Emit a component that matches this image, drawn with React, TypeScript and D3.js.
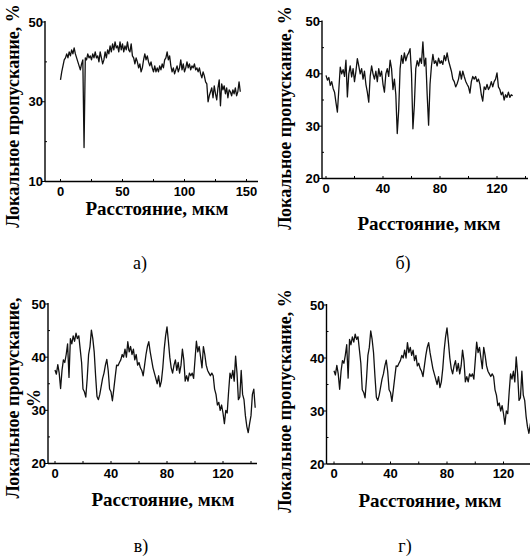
import React, { useEffect, useRef } from 'react';
import * as d3 from 'd3';

// Local transmission (%) vs distance (um), one value per micrometre
const transA = [
  35.5, 37.5, 39.0, 40.5, 41.0, 42.0, 41.0, 42.5, 41.5, 43.0, 42.0, 43.5, 42.0, 41.0, 40.0, 39.0, 38.0, 39.5, 40.5, 18.5,
  41.0, 40.5, 42.0, 41.0, 41.5, 40.5, 42.0, 41.0, 42.5, 41.0, 41.5, 40.0, 42.5, 41.0, 39.5, 40.5, 42.5, 41.0, 43.0, 42.0,
  44.0, 42.5, 44.5, 43.0, 45.0, 43.5, 44.0, 42.5, 45.0, 43.0, 44.5, 42.5, 44.0, 43.0, 45.0, 43.0, 42.5, 44.5, 41.5, 41.0,
  39.5, 41.0, 40.0, 38.5, 39.5, 37.5, 38.5, 40.5, 42.0, 40.5, 41.5, 40.0, 39.0, 40.0, 38.5, 37.5, 39.0, 37.5, 38.5, 37.5,
  39.0, 38.0, 39.5, 38.5, 40.5, 41.0, 42.5, 40.5, 41.5, 39.0, 37.5, 38.5, 37.0, 38.0, 39.0, 37.5, 38.5, 40.5, 38.0, 39.5,
  37.5, 38.5, 40.0, 38.5, 39.5, 38.0, 39.0, 38.5, 39.5, 38.0, 38.5, 37.5, 38.5, 37.0, 36.0, 37.5, 36.5, 35.0, 34.5, 30.0,
  31.5, 32.5, 33.5, 31.0, 34.0, 32.0, 30.5, 33.5, 35.5, 29.0, 34.5, 33.0, 34.0, 32.0, 33.5, 31.0, 33.0, 32.5, 31.5, 33.0,
  32.0, 33.5, 31.5, 32.5, 35.0, 32.5,
];

const transB = [
  39.7, 38.8, 39.3, 37.8, 38.5, 37.2, 36.5, 34.5, 32.7, 37.0, 41.3, 40.0, 40.8, 39.5, 42.6, 35.6, 40.0, 41.5, 39.4, 41.0,
  38.5, 40.5, 42.9, 41.5, 40.0, 41.0, 39.0, 40.5, 38.0, 36.5, 34.6, 39.5, 41.5, 40.0, 39.0, 40.5, 38.5, 41.0, 39.5, 40.5,
  38.0, 36.5, 40.0, 41.0, 39.5, 42.6, 41.0, 37.0, 39.0, 36.0, 28.6, 33.0, 41.0, 43.5, 42.0, 44.0, 42.5, 43.5, 44.0, 44.8,
  40.0, 29.5, 34.0, 41.0, 42.5, 41.5, 43.0, 42.0, 46.1, 41.5, 43.0, 36.0, 30.2, 38.0, 41.5, 43.7, 42.0, 42.5, 41.5, 43.0,
  42.0, 42.5, 41.8, 43.5, 42.5, 44.0, 42.5, 41.5, 40.5, 39.0, 38.5, 37.5, 38.1, 39.0, 40.5, 39.0, 40.5, 39.5, 38.6, 38.0,
  37.5, 36.3, 38.5, 39.5, 39.0, 39.5, 38.5, 39.0, 38.0, 36.0, 34.8, 37.5, 37.0, 38.0, 37.0, 37.5, 38.5, 37.5, 38.5, 39.0,
  40.2, 37.5, 37.0, 36.0, 36.5, 35.0, 36.0, 35.5, 36.5, 35.5, 36.0, 35.8,
];

const transC = [
  37.6, 36.8, 38.6, 37.0, 34.1, 37.5, 39.5, 39.0, 40.5, 42.5, 36.2, 43.5, 42.5, 44.0, 43.0, 44.5, 43.5, 44.0, 41.5, 39.0,
  34.0, 33.5, 32.5, 36.0, 40.5, 42.0, 45.1, 43.5, 41.0, 36.5, 32.6, 32.0, 33.0, 34.5, 36.0, 37.0, 38.5, 39.6, 37.5, 34.0,
  33.5, 31.8, 34.0, 36.3, 38.5, 38.4, 39.0, 39.5, 40.5, 40.0, 41.5, 40.0, 42.9, 41.0, 42.0, 40.5, 41.5, 39.5, 40.5, 38.5,
  39.0, 38.0, 37.5, 36.5, 38.5, 40.5, 42.0, 42.9, 41.0, 39.5, 38.0, 37.0, 36.0, 35.0, 36.5, 34.4, 35.5, 38.0, 41.5, 44.0,
  45.7, 43.0, 40.0, 38.0, 37.0, 38.5, 39.5, 37.5, 39.0, 37.0, 38.5, 41.5, 39.5, 35.5, 36.5, 35.5, 37.0, 36.5, 37.0, 36.0,
  39.5, 43.0, 41.0, 42.0, 40.0, 38.0, 42.0, 40.5, 38.5, 37.5, 37.0, 36.5, 37.0, 36.5, 34.0, 33.0, 31.0, 31.5, 30.0, 31.0,
  29.5, 27.5, 30.0, 29.5, 33.5, 37.0, 36.0, 37.5, 35.5, 40.2, 37.0, 32.0, 32.5, 37.5, 33.0, 32.0, 29.0, 27.0, 25.8, 27.5,
  29.0, 33.0, 34.0, 30.5,
];

const ticksA = [0, 50, 100, 150];
const minorA = [25, 75, 125];
const ticksBCD = [0, 40, 80, 120];
const minorBCD = [20, 60, 100, 140];
const yTicksA = [10, 30, 50];
const yMinorA = [20, 40];
const yTicksBCD = [20, 30, 40, 50];
const yMinorBCD = [25, 35, 45];

const xTitle = 'Расстояние, мкм';
const yTitle = 'Локальное пропускание, %';

const serif = '"Liberation Serif", "Times New Roman", serif';
const sans = '"Liberation Sans", Arial, sans-serif';

const panels = [
  {
    values: transA, xDomain: [0, 150], xRange: [60.5, 246.5], yDomain: [10, 50], yRange: [181.5, 22],
    axisX: 45, axisEnd: 258, xTicks: ticksA, xMinor: minorA, yTicks: yTicksA, yMinor: yMinorA,
    title: [yTitle], titleX: 19, titleY: 116, xTitleX: 157, xTitleY: 215, caption: 'а)', capX: 140, capY: 269,
  },
  {
    values: transB, xDomain: [0, 120], xRange: [326, 497], yDomain: [20, 50], yRange: [178.5, 21.5],
    axisX: 322, axisEnd: 528, xTicks: ticksBCD, xMinor: minorBCD, yTicks: yTicksBCD, yMinor: yMinorBCD,
    title: [yTitle], titleX: 291, titleY: 118, xTitleX: 429, xTitleY: 230, caption: 'б)', capX: 403, capY: 269,
  },
  {
    values: transC, xDomain: [0, 120], xRange: [55, 223], yDomain: [20, 50], yRange: [463.5, 304],
    axisX: 48, axisEnd: 257, xTicks: ticksBCD, xMinor: minorBCD, yTicks: yTicksBCD, yMinor: yMinorBCD,
    title: ['Локальное пропускание,', '%'], titleX: 19, titleY: 398, xTitleX: 163, xTitleY: 506, caption: 'в)', capX: 141, capY: 552,
  },
  {
    values: transC, xDomain: [0, 120], xRange: [334, 503.5], yDomain: [20, 50], yRange: [464, 305],
    axisX: 326.5, axisEnd: 532, xTicks: ticksBCD, xMinor: minorBCD, yTicks: yTicksBCD, yMinor: yMinorBCD,
    title: [yTitle], titleX: 291, titleY: 401, xTitleX: 430, xTitleY: 507, caption: 'г)', capX: 405, capY: 552,
  },
];

const App = () => {
  const svgRef = useRef(null);

  useEffect(() => {
    const svg = d3.select(svgRef.current);
    svg.selectAll('*').remove();

    panels.forEach((p) => {
      const g = svg.append('g');
      const x = d3.scaleLinear().domain(p.xDomain).range(p.xRange);
      const y = d3.scaleLinear().domain(p.yDomain).range(p.yRange);
      const y0 = y(p.yDomain[0]);

      // axes lines
      g.append('line').attr('x1', p.axisX).attr('x2', p.axisX)
        .attr('y1', y0).attr('y2', y(p.yDomain[1]) - 1)
        .attr('stroke', '#000').attr('stroke-width', 1.4);
      g.append('line').attr('x1', p.axisX).attr('x2', p.axisEnd)
        .attr('y1', y0).attr('y2', y0)
        .attr('stroke', '#000').attr('stroke-width', 1.4);

      // x ticks + labels
      g.selectAll('.xt').data(p.xTicks.concat(p.xMinor)).join('line')
        .attr('x1', (d) => x(d)).attr('x2', (d) => x(d))
        .attr('y1', y0).attr('y2', y0 - 2.5)
        .attr('stroke', '#000').attr('stroke-width', 1);
      g.selectAll('.xl').data(p.xTicks).join('text')
        .attr('x', (d) => x(d)).attr('y', y0 + 14)
        .attr('text-anchor', 'middle')
        .style('font-family', sans).style('font-weight', 'bold').style('font-size', '13px')
        .text((d) => d);

      // y ticks + labels
      g.selectAll('.yt').data(p.yTicks).join('line')
        .attr('x1', p.axisX - 3).attr('x2', p.axisX)
        .attr('y1', (d) => y(d)).attr('y2', (d) => y(d))
        .attr('stroke', '#000').attr('stroke-width', 1);
      g.selectAll('.ym').data(p.yMinor).join('line')
        .attr('x1', p.axisX).attr('x2', p.axisX + 2)
        .attr('y1', (d) => y(d)).attr('y2', (d) => y(d))
        .attr('stroke', '#000').attr('stroke-width', 1);
      g.selectAll('.yl').data(p.yTicks).join('text')
        .attr('x', p.axisX - 2).attr('y', (d) => y(d) + 4.5)
        .attr('text-anchor', 'end')
        .style('font-family', sans).style('font-weight', 'bold').style('font-size', '13px')
        .text((d) => d);

      // data trace
      const line = d3.line().x((d, i) => x(i)).y((d) => y(d));
      g.append('path').datum(p.values)
        .attr('d', line)
        .attr('fill', 'none').attr('stroke', '#111').attr('stroke-width', 1.3)
        .attr('stroke-linejoin', 'round');

      // titles
      const yt = g.append('text')
        .attr('transform', `translate(${p.titleX},${p.titleY}) rotate(-90)`)
        .attr('text-anchor', 'middle')
        .style('font-family', serif).style('font-weight', 'bold').style('font-size', '18px');
      p.title.forEach((t, i) => {
        yt.append('tspan').attr('x', 0).attr('dy', i === 0 ? 0 : 21).text(t);
      });
      g.append('text').attr('x', p.xTitleX).attr('y', p.xTitleY)
        .attr('text-anchor', 'middle')
        .style('font-family', serif).style('font-weight', 'bold').style('font-size', '19px')
        .text(xTitle);
      g.append('text').attr('x', p.capX).attr('y', p.capY)
        .attr('text-anchor', 'middle')
        .style('font-family', serif).style('font-size', '18px')
        .text(p.caption);
    });
  }, []);

  return (
    <div style={{ position: 'absolute', left: 0, top: 0 }}>
      <svg ref={svgRef} width={530} height={557} style={{ display: 'block', background: '#fff' }}></svg>
    </div>
  );
};

export default App;
